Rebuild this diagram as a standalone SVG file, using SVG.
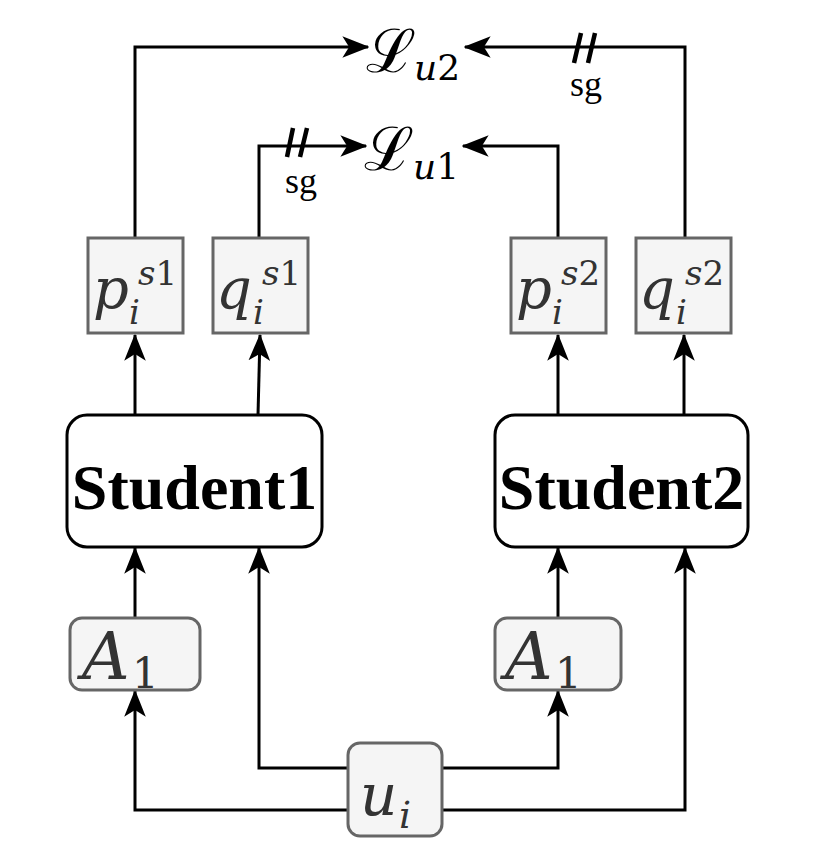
<svg xmlns="http://www.w3.org/2000/svg" width="822" height="848" viewBox="0 0 822 848">
<style>
.box{fill:#f5f5f5;stroke:#666;stroke-width:3}
.stu{fill:#fff;stroke:#000;stroke-width:3}
.ln{fill:none;stroke:#000;stroke-width:3}
.sl{fill:none;stroke:#000;stroke-width:4.5}
.m{font-family:"DejaVu Serif","Liberation Serif",serif;font-style:italic;fill:#333}
.n{font-style:normal}
.L{font-family:"DejaVu Serif","Liberation Serif",serif;fill:#000}
.st{font-family:"Liberation Serif","Times New Roman",serif;font-weight:bold;font-size:64px;fill:#000}
.sg{font-family:"Liberation Serif","Times New Roman",serif;font-size:36px;fill:#000}
</style>
<defs>
<marker id="ar" viewBox="0 0 20 16" refX="19" refY="8" markerWidth="27" markerHeight="22" markerUnits="userSpaceOnUse" orient="auto">
<path d="M0,0 L20,8 L0,16 L5,8 Z" fill="#000"/>
</marker>
</defs>
<g id="connectors">
<path class="ln" d="M135,237 V47 H368" marker-end="url(#ar)"/>
<path class="ln" d="M685,237 V47 H465" marker-end="url(#ar)"/>
<path class="ln" d="M259,237 V146 H366" marker-end="url(#ar)"/>
<path class="ln" d="M558,237 V146 H463" marker-end="url(#ar)"/>
<path class="ln" d="M135,415 V335" marker-end="url(#ar)"/>
<path class="ln" d="M258,415 L260,335" marker-end="url(#ar)"/>
<path class="ln" d="M558,415 V335" marker-end="url(#ar)"/>
<path class="ln" d="M684,415 V335" marker-end="url(#ar)"/>
<path class="ln" d="M135,618 V548" marker-end="url(#ar)"/>
<path class="ln" d="M558,618 V548" marker-end="url(#ar)"/>
<path class="ln" d="M348,810 H135 V691" marker-end="url(#ar)"/>
<path class="ln" d="M348,768 H259 V548" marker-end="url(#ar)"/>
<path class="ln" d="M442,768 H558 V691" marker-end="url(#ar)"/>
<path class="ln" d="M442,810 H685 V548" marker-end="url(#ar)"/>
<path class="sl" d="M574,63 L581,33 M588,63 L595,33"/>
<path class="sl" d="M287,157 L293,128 M300,157 L307,128"/>
<text class="sg" x="586" y="96" text-anchor="middle">sg</text>
<text class="sg" x="301" y="193" text-anchor="middle">sg</text>
</g>
<g id="Lu2">
<text class="L" x="366" y="72" font-size="60">ℒ</text>
<text class="m" x="414" y="80" font-size="36" style="fill:#000">u<tspan class="n">2</tspan></text>
</g>
<g id="Lu1">
<text class="L" x="364" y="170" font-size="60">ℒ</text>
<text class="m" x="413" y="179" font-size="36" style="fill:#000">u<tspan class="n">1</tspan></text>
</g>
<g id="p1">
<rect class="box" x="88" y="238" width="95" height="95"/>
<text class="m" x="93" y="308" font-size="56">p</text>
<text class="m" x="138" y="285" font-size="34">s<tspan class="n">1</tspan></text>
<text class="m" x="129" y="324" font-size="34">i</text>
</g>
<g id="q1">
<rect class="box" x="213" y="238" width="95" height="95"/>
<text class="m" x="216" y="308" font-size="56">q</text>
<text class="m" x="262" y="285" font-size="34">s<tspan class="n">1</tspan></text>
<text class="m" x="253" y="324" font-size="34">i</text>
</g>
<g id="p2">
<rect class="box" x="511" y="238" width="95" height="95"/>
<text class="m" x="516" y="308" font-size="56">p</text>
<text class="m" x="561" y="285" font-size="34">s<tspan class="n">2</tspan></text>
<text class="m" x="552" y="324" font-size="34">i</text>
</g>
<g id="q2">
<rect class="box" x="636" y="238" width="95" height="95"/>
<text class="m" x="639" y="308" font-size="56">q</text>
<text class="m" x="685" y="285" font-size="34">s<tspan class="n">2</tspan></text>
<text class="m" x="676" y="324" font-size="34">i</text>
</g>
<g id="Student1">
<rect class="stu" x="67" y="415" width="255" height="132" rx="20"/>
<text class="st" x="194.500" y="509" text-anchor="middle">Student1</text>
</g>
<g id="Student2">
<rect class="stu" x="495" y="415" width="253" height="132" rx="20"/>
<text class="st" x="621.500" y="509" text-anchor="middle">Student2</text>
</g>
<g id="A1a">
<rect class="box" x="70" y="618" width="130" height="72" rx="12"/>
<text class="m" x="82" y="679" font-size="66">A</text>
<text class="m n" x="132" y="688" font-size="42">1</text>
</g>
<g id="A1b">
<rect class="box" x="495" y="618" width="126" height="72" rx="12"/>
<text class="m" x="505" y="679" font-size="66">A</text>
<text class="m n" x="555" y="688" font-size="42">1</text>
</g>
<g id="u">
<rect class="box" x="348" y="743" width="94" height="93" rx="12"/>
<text class="m" x="360" y="815" font-size="58">u</text>
<text class="m" x="399" y="828" font-size="38">i</text>
</g>
</svg>
